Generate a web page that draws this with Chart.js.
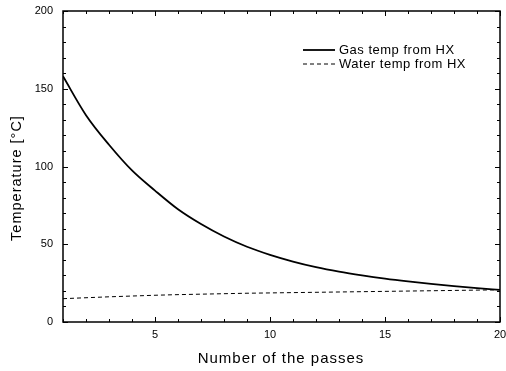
<!DOCTYPE html>
<html>
<head>
<meta charset="utf-8">
<script src="https://cdn.jsdelivr.net/npm/chart.js@4/dist/chart.umd.min.js"></script>
<style>
  html, body { margin: 0; padding: 0; background: #fff; }
  #wrap { width: 506px; height: 371px; position: relative; }
</style>
</head>
<body>
<div id="wrap"><canvas id="chart"></canvas></div>
<script>
  // passes 1..20
  const passes = [1, 2, 3, 4, 5, 6, 7, 8, 9, 10, 11, 12, 13, 14, 15, 16, 17, 18, 19, 20];
  const gasTemp = [158, 133, 114, 97.5, 84.5, 72.5, 63, 55, 48.4, 43.2, 38.9, 35.3, 32.4, 30, 27.9, 26.1, 24.5, 23.1, 21.8, 20.6];
  const waterTemp = [15, 15.6, 16.2, 16.7, 17.2, 17.6, 17.9, 18.2, 18.5, 18.7, 18.9, 19.1, 19.3, 19.5, 19.7, 19.9, 20.1, 20.3, 20.5, 20.7];
  const xTickLabels = [5, 10, 15, 20];
  const yTickLabels = [0, 50, 100, 150, 200];
  const xTitle = "Number of the passes";
  const yTitle = "Temperature [°C]";

  const FONT = "'Liberation Sans', Arial, sans-serif";

  function toPoints(xs, ys) {
    return xs.map((x, i) => ({ x: x, y: ys[i] }));
  }

  // frame, inward ticks, axis titles and legend
  const framePlugin = {
    id: "frame",
    afterDraw(chart) {
      const ctx = chart.ctx;
      const a = chart.chartArea;
      const xs = chart.scales.x;
      const ys = chart.scales.y;
      ctx.save();
      ctx.strokeStyle = "#000";
      ctx.lineWidth = 1.5;
      ctx.strokeRect(a.left, a.top, a.right - a.left, a.bottom - a.top);

      ctx.lineWidth = 1;
      ctx.beginPath();
      for (let v = 1; v <= 20; v++) {
        const px = Math.round(xs.getPixelForValue(v)) + 0.5;
        const len = v % 5 === 0 ? 5 : 3;
        ctx.moveTo(px, a.bottom); ctx.lineTo(px, a.bottom - len);
        ctx.moveTo(px, a.top); ctx.lineTo(px, a.top + len);
      }
      for (let v = 0; v <= 200; v += 10) {
        const py = Math.round(ys.getPixelForValue(v)) + 0.5;
        const len = v % 50 === 0 ? 5 : 3;
        ctx.moveTo(a.left, py); ctx.lineTo(a.left + len, py);
        ctx.moveTo(a.right, py); ctx.lineTo(a.right - len, py);
      }
      ctx.stroke();

      // axis titles
      ctx.fillStyle = "#000";
      ctx.letterSpacing = "1px";
      ctx.textAlign = "center";
      ctx.textBaseline = "alphabetic";
      ctx.font = "15px " + FONT;
      ctx.fillText(xTitle, 281, 363);
      ctx.save();
      ctx.translate(21, 178);
      ctx.rotate(-Math.PI / 2);
      ctx.font = "14.5px " + FONT;
      ctx.fillText(yTitle, 0, 0);
      ctx.restore();

      // legend
      ctx.letterSpacing = "0.5px";
      ctx.font = "13px " + FONT;
      ctx.textAlign = "left";
      ctx.textBaseline = "middle";
      chart.data.datasets.forEach((ds, i) => {
        const y = 50 + i * 14;
        ctx.beginPath();
        ctx.lineWidth = ds.borderWidth;
        ctx.setLineDash(ds.borderDash || []);
        ctx.moveTo(303, y);
        ctx.lineTo(335, y);
        ctx.stroke();
        ctx.setLineDash([]);
        ctx.fillText(ds.label, 339, y);
      });
      ctx.letterSpacing = "0px";
      ctx.restore();
    }
  };

  new Chart(document.getElementById("chart"), {
    type: "line",
    data: {
      datasets: [
        {
          label: "Gas temp from HX",
          data: toPoints(passes, gasTemp),
          borderColor: "#000",
          borderWidth: 1.8,
          pointRadius: 0,
          cubicInterpolationMode: "monotone",
          fill: false
        },
        {
          label: "Water temp from HX",
          data: toPoints(passes, waterTemp),
          borderColor: "#000",
          borderWidth: 1,
          borderDash: [4, 3],
          pointRadius: 0,
          fill: false
        }
      ]
    },
    options: {
      responsive: true,
      maintainAspectRatio: false,
      animation: false,
      layout: { padding: { top: 11, right: 6, left: 0, bottom: 0 } },
      plugins: {
        legend: { display: false },
        tooltip: { enabled: false }
      },
      scales: {
        x: {
          type: "linear",
          min: 1,
          max: 20,
          grid: { display: false, drawTicks: false },
          border: { display: false },
          afterBuildTicks: (s) => { s.ticks = xTickLabels.map((v) => ({ value: v })); },
          afterFit: (s) => { s.height = 49; s.paddingLeft = 0; s.paddingRight = 0; },
          ticks: {
            color: "#000",
            font: { family: FONT, size: 11 },
            padding: 6,
            maxRotation: 0
          },
          title: { display: false }
        },
        y: {
          min: 0,
          max: 200,
          grid: { display: false, drawTicks: false },
          border: { display: false },
          afterBuildTicks: (s) => { s.ticks = yTickLabels.map((v) => ({ value: v })); },
          afterFit: (s) => { s.width = 63; s.paddingTop = 0; s.paddingBottom = 0; },
          ticks: {
            color: "#000",
            font: { family: FONT, size: 11 },
            padding: 10
          },
          title: { display: false }
        }
      }
    },
    plugins: [framePlugin]
  });
</script>
</body>
</html>
